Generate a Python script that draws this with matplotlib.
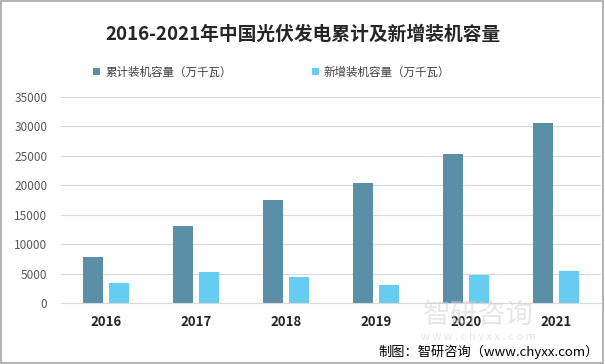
import numpy as np
import matplotlib.pyplot as plt
from matplotlib.patches import Rectangle

plt.rcParams['font.family'] = ['Noto Sans CJK SC', 'DejaVu Sans']

# 数据
years = ["2016", "2017", "2018", "2019", "2020", "2021"]
cumulative = [7742, 13025, 17446, 20430, 25343, 30656]
new_added = [3454, 5306, 4426, 2988, 4820, 5488]

label_cum = "累计装机容量（万千瓦）"
label_new = "新增装机容量（万千瓦）"

c_dark = "#5B8FA8"
c_light = "#66CCF2"

fig = plt.figure(figsize=(6.05, 3.64), dpi=100)
ax = fig.add_axes([0.101, 0.1676, 0.893, 0.566])

x = np.arange(len(years))
w = 0.22
ax.bar(x - 0.145, cumulative, width=w, color=c_dark, label=label_cum, zorder=2)
ax.bar(x + 0.145, new_added, width=w, color=c_light, label=label_new, zorder=2)

ax.set_xlim(-0.5, len(years) - 0.5)
ax.set_ylim(0, 35000)
ax.set_yticks(range(0, 35001, 5000))
ax.yaxis.grid(True, color="#D9D9D9", linewidth=0.8, zorder=0)
ax.set_xticks(x)
ax.set_xticklabels(years, fontweight="bold", fontsize=9.5, color="#262626")
ax.tick_params(axis="y", labelsize=8.5, labelcolor="#595959", length=0, pad=10)
ax.tick_params(axis="x", length=0, pad=9)
for s in ["top", "right", "left"]:
    ax.spines[s].set_visible(False)
ax.spines["bottom"].set_color("#D9D9D9")

fig.text(0.5, 0.905, "2016-2021年中国光伏发电累计及新增装机容量", ha="center", va="center",
         fontsize=13.5, fontweight="bold", color="#262626")
ax.legend(loc="center", bbox_to_anchor=(0.39, 1.12), ncol=2, frameon=False,
          fontsize=8.3, handlelength=0.6, handleheight=0.6, columnspacing=7.0,
          handletextpad=0.4, labelcolor="#404040")

# 水印
fig.text(0.79, 0.135, "智研咨询", ha="center", va="center", fontsize=20,
         color="#D0D0D0", alpha=0.5, zorder=0)
fig.text(0.79, 0.075, "w w w . c h y x x . c o m", ha="center", va="center",
         fontsize=8, color="#D0D0D0", alpha=0.5, zorder=0)

fig.text(0.99, 0.033, "制图：智研咨询（www.chyxx.com）", ha="right", va="center",
         fontsize=9.5, color="#000000")

fig.add_artist(Rectangle((0.002, 0.003), 0.995, 0.994, transform=fig.transFigure,
                         fill=False, edgecolor="#A6A6A6", linewidth=1.2))

fig.savefig("out.png", dpi=100)
